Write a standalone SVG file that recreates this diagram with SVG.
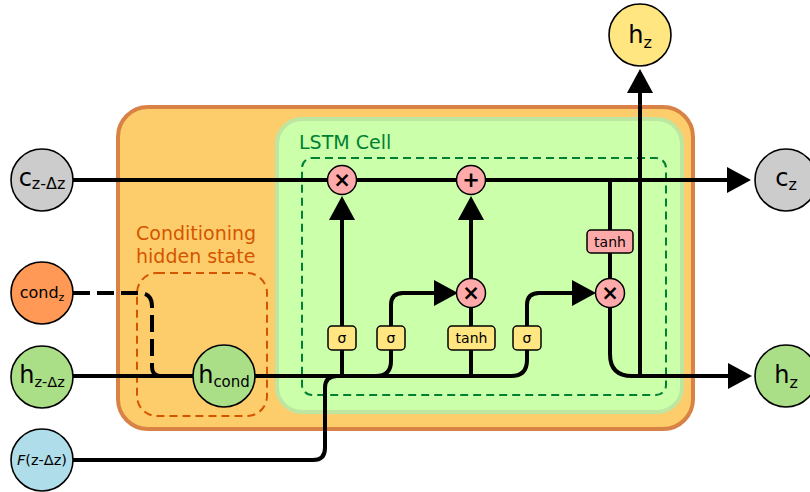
<svg xmlns="http://www.w3.org/2000/svg" width="810" height="492" viewBox="0 0 810 492">
<defs>
<marker id="arr" markerUnits="userSpaceOnUse" markerWidth="24" markerHeight="28" viewBox="0 -13 23 26" refX="0" refY="0" orient="auto" overflow="visible">
<path d="M0,-12.5 L23,0 L0,12.5 Z" fill="#000"/>
</marker>
<style>
text{font-family:"DejaVu Sans","Liberation Sans",sans-serif;fill:#000}
.node{stroke:#000;stroke-width:1.6}
.wire{fill:none;stroke:#000;stroke-width:4}
.gate{fill:#ffe680;stroke:#000;stroke-width:1.5}
.op{fill:#ffaaaa;stroke:#000;stroke-width:1.5}
.opt{font-size:21px;font-weight:bold;text-anchor:middle}
.gt{font-size:14px;text-anchor:middle}
.lbl{text-anchor:middle}
</style>
</defs>
<rect width="810" height="492" fill="#fff"/>
<g id="outer-box">
<rect x="118" y="107" width="575" height="322" rx="30" fill="#fecd6b" stroke="#d98245" stroke-width="4"/>
</g>
<g id="lstm-box">
<rect x="277" y="119" width="405" height="293" rx="25" fill="#ccffaa" stroke="#bde6a0" stroke-width="4"/>
<rect x="302" y="158" width="364" height="237" rx="10" fill="none" stroke="#008033" stroke-width="2" stroke-dasharray="8,5"/>
<text x="299" y="149" font-size="19" style="fill:#008033">LSTM Cell</text>
</g>
<g id="cond-box">
<rect x="137" y="273" width="130" height="143" rx="20" fill="none" stroke="#d45500" stroke-width="2" stroke-dasharray="8,5"/>
<text x="136" y="240" font-size="19" style="fill:#d45500">Conditioning</text>
<text x="136" y="263" font-size="19" style="fill:#d45500">hidden state</text>
</g>
<g id="connectors">
<path class="wire" d="M73,180 H727" marker-end="url(#arr)"/>
<path class="wire" d="M342,376 V220" marker-end="url(#arr)"/>
<path class="wire" d="M471,376 V220" marker-end="url(#arr)"/>
<path class="wire" d="M376,376 Q391,376 391,361 V305 Q391,293 403,293 H434" marker-end="url(#arr)"/>
<path class="wire" d="M73,376 H511 Q527,376 527,360 V305 Q527,293 539,293 H572" marker-end="url(#arr)"/>
<path class="wire" d="M73,460 H313 Q325,460 325,448 V388 Q325,376 337,376"/>
<path class="wire" d="M610,180 V293"/>
<path class="wire" d="M610,293 V354 Q610,376 632,376 H728" marker-end="url(#arr)"/>
<path class="wire" d="M640,376 V93" marker-end="url(#arr)"/>
<path class="wire" d="M73,293 H139 Q152,293 152,306 V367 Q152,376 161,376" stroke-dasharray="17,7"/>
</g>
<g id="op-mul1"><circle class="op" cx="342" cy="180" r="14.5"/><text class="opt" x="342" y="187">×</text></g>
<g id="op-add"><circle class="op" cx="471" cy="180" r="14.5"/><text class="opt" x="471" y="187">+</text></g>
<g id="op-mul2"><circle class="op" cx="471" cy="293" r="14.5"/><text class="opt" x="471" y="300">×</text></g>
<g id="op-mul3"><circle class="op" cx="610" cy="293" r="14.5"/><text class="opt" x="610" y="300">×</text></g>
<g id="gate-f"><rect class="gate" x="328" y="326" width="28" height="24" rx="4"/><text class="gt" x="342" y="343">σ</text></g>
<g id="gate-i"><rect class="gate" x="377" y="326" width="28" height="24" rx="4"/><text class="gt" x="391" y="343">σ</text></g>
<g id="gate-c"><rect class="gate" x="448" y="326" width="47" height="24" rx="4"/><text class="gt" x="471.5" y="343" font-size="15">tanh</text></g>
<g id="gate-o"><rect class="gate" x="513" y="326" width="28" height="24" rx="4"/><text class="gt" x="527" y="343">σ</text></g>
<g id="tanh-out"><rect x="587" y="230" width="46" height="23" rx="4" fill="#ffaaaa" stroke="#000" stroke-width="1.5"/><text class="gt" x="610" y="246.5" font-size="15">tanh</text></g>
<g id="node-c-prev"><circle class="node" cx="42" cy="180" r="31" fill="#cccccc"/><text class="lbl" x="42" y="186" font-size="24">c<tspan font-size="16" dy="3">z-Δz</tspan></text></g>
<g id="node-cond"><circle class="node" cx="42" cy="293" r="31" fill="#ff9955"/><text class="lbl" x="42" y="298" font-size="16">cond<tspan font-size="11" dy="3">z</tspan></text></g>
<g id="node-h-prev"><circle class="node" cx="42" cy="377" r="31" fill="#aade87"/><text class="lbl" x="42" y="383" font-size="24">h<tspan font-size="14.5" dy="4">z-Δz</tspan></text></g>
<g id="node-f"><circle class="node" cx="42" cy="460" r="31" fill="#afdde9"/><text class="lbl" x="42" y="465" font-size="14.5"><tspan font-style="italic">F</tspan>(z-Δz)</text></g>
<g id="node-hcond"><circle class="node" cx="224" cy="376" r="31" fill="#aade87"/><text class="lbl" x="224" y="383" font-size="24">h<tspan font-size="15" dy="4">cond</tspan></text></g>
<g id="node-hz-top"><circle class="node" cx="640" cy="35" r="31" fill="#ffe680"/><text class="lbl" x="640" y="43" font-size="24">h<tspan font-size="16" dy="5">z</tspan></text></g>
<g id="node-cz"><circle class="node" cx="786" cy="180" r="31" fill="#cccccc"/><text class="lbl" x="786" y="186" font-size="24">c<tspan font-size="16" dy="4">z</tspan></text></g>
<g id="node-hz-right"><circle class="node" cx="786" cy="376" r="31" fill="#aade87"/><text class="lbl" x="786" y="383" font-size="24">h<tspan font-size="16" dy="5">z</tspan></text></g>
</svg>
